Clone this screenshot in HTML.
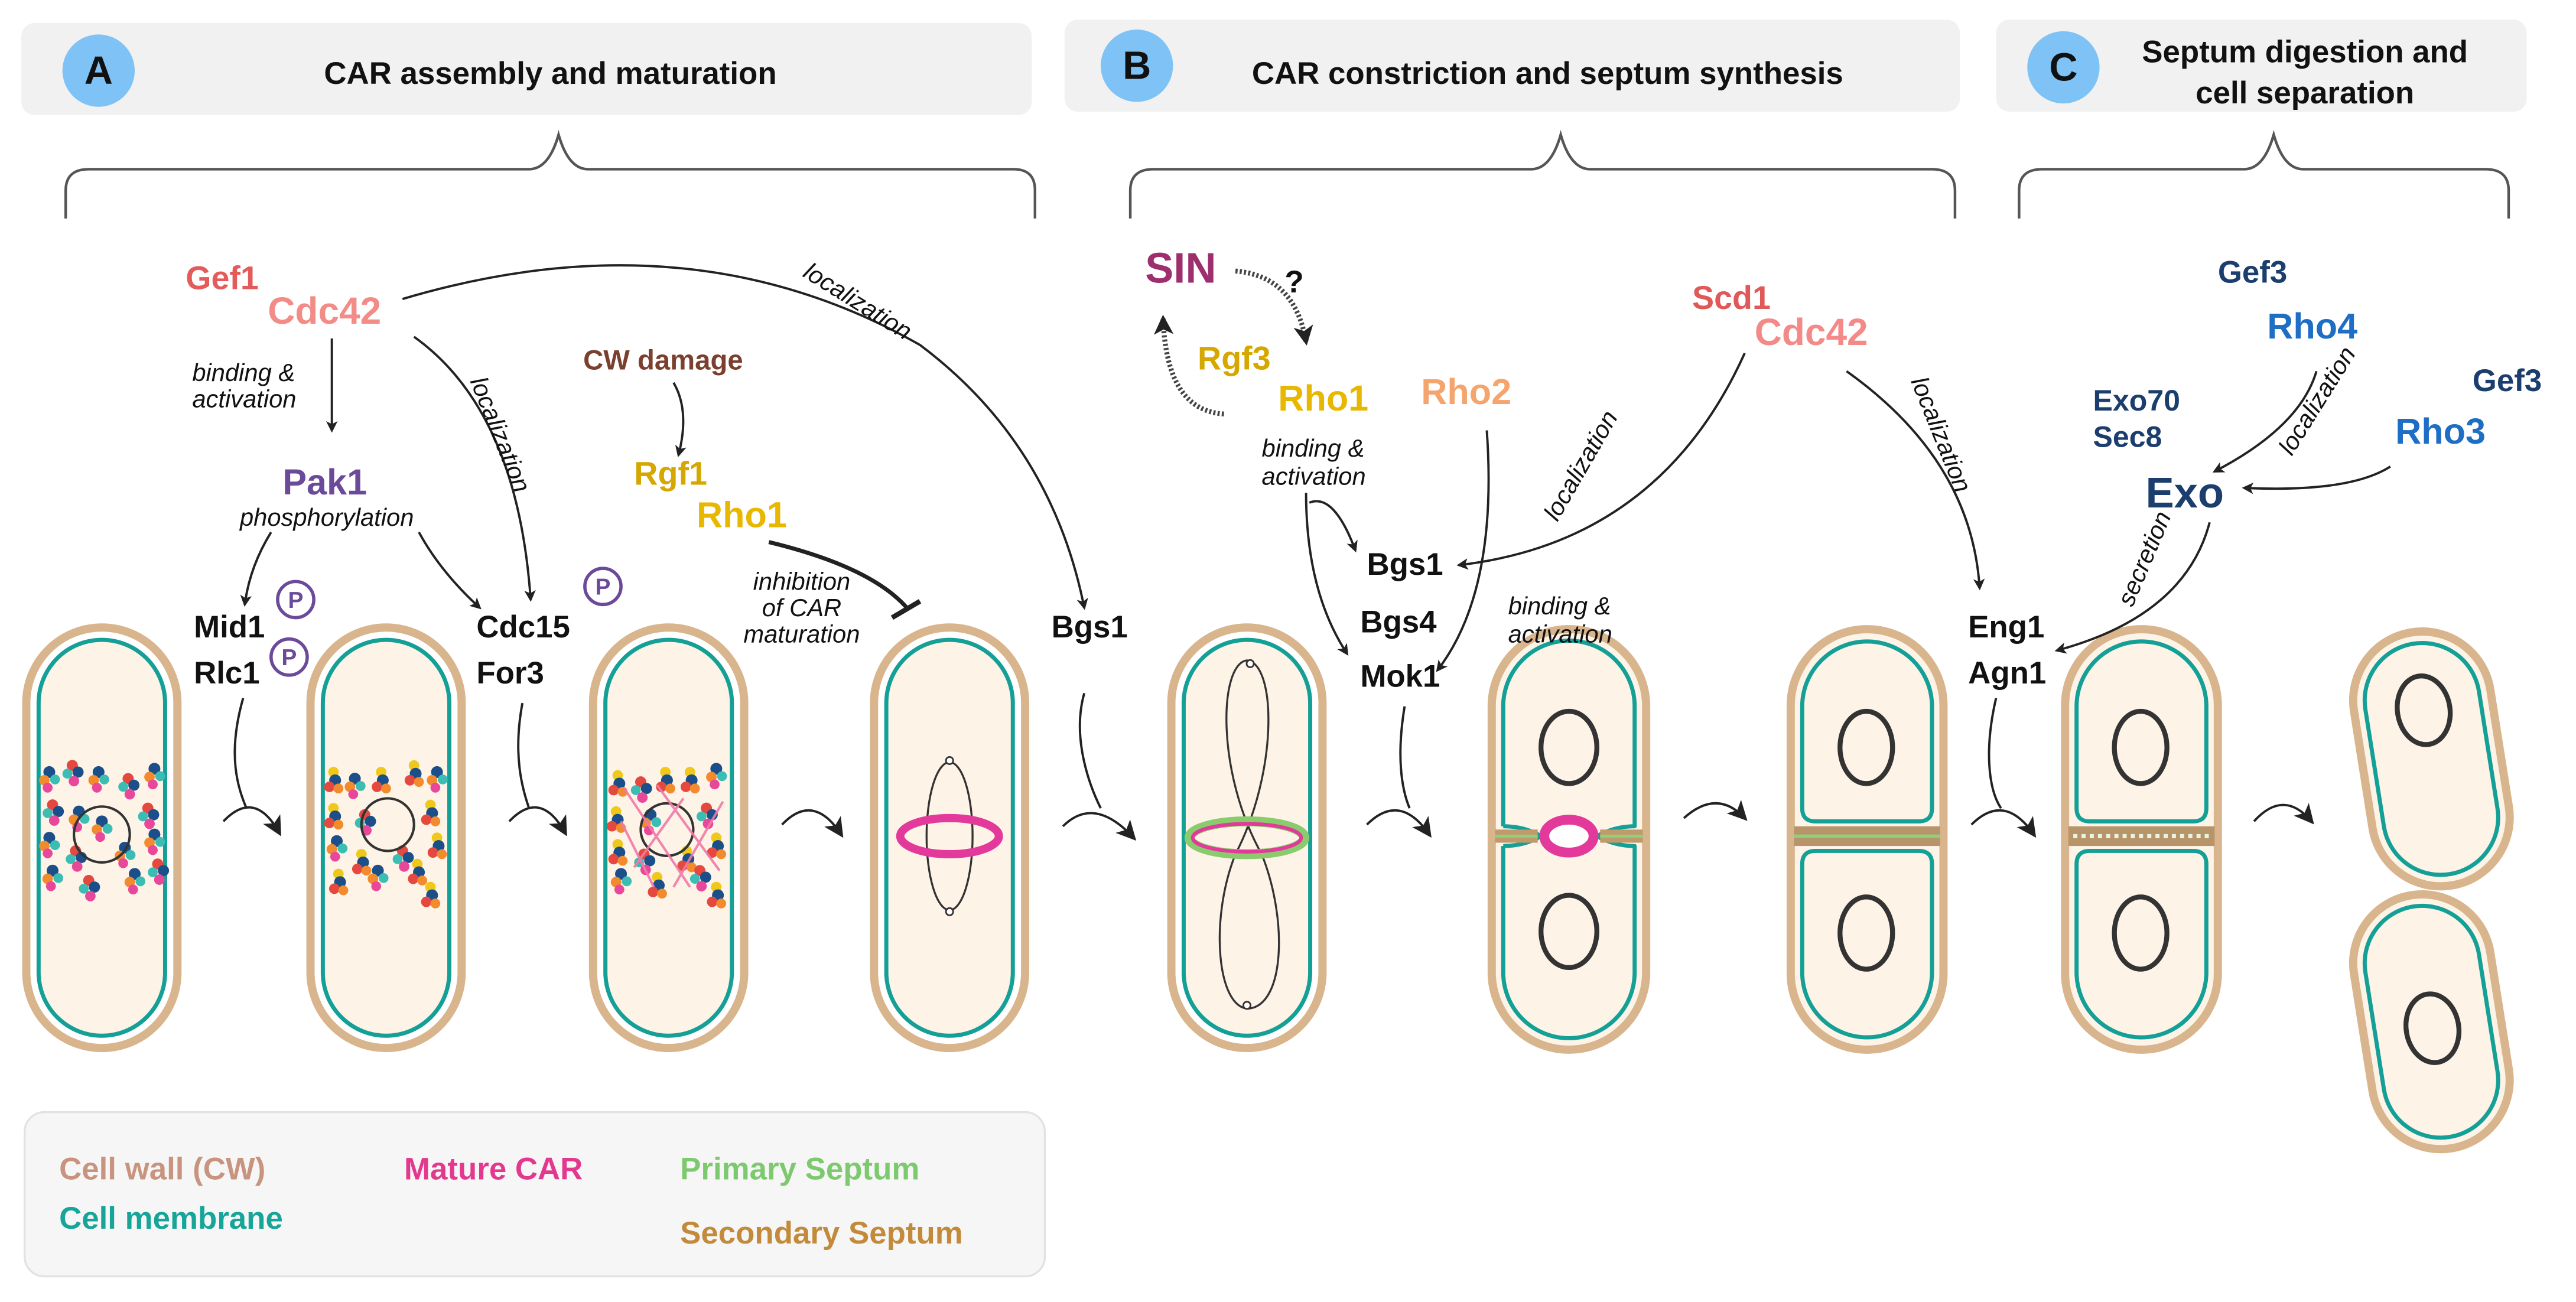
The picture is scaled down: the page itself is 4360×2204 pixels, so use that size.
<!DOCTYPE html>
<html><head><meta charset="utf-8"><style>
html,body{margin:0;padding:0;background:#fff;}
svg{display:block;}
text{font-family:"Liberation Sans",sans-serif;}
.g{font-weight:bold;font-size:20px;}
.i{font-style:italic;font-size:15px;fill:#111;}
.h{font-weight:bold;font-size:19px;fill:#111;}
.k{font-weight:bold;font-size:19px;fill:#111;}
.ln{fill:none;stroke:#222;stroke-width:1.4;}
</style></head><body>
<svg width="4360" height="2204" viewBox="0 0 1568 792.6" preserveAspectRatio="none" xmlns="http://www.w3.org/2000/svg">
<defs>
<marker id="ah" viewBox="0 0 10 10" refX="8" refY="5" markerWidth="7" markerHeight="7" orient="auto-start-reverse" markerUnits="userSpaceOnUse">
<path d="M0,0 L10,5 L0,10 L2.5,5 Z" fill="#222"/></marker>
<marker id="ah2" viewBox="0 0 10 10" refX="8" refY="5" markerWidth="12" markerHeight="12" orient="auto" markerUnits="userSpaceOnUse">
<path d="M0,0 L10,5 L0,10 L2.5,5 Z" fill="#222"/></marker>
<g id="ca"><circle cx="0" cy="0" r="3.6" fill="#1b4f8a"/><circle cx="3.5" cy="4.5" r="3" fill="#3cbdb4"/><circle cx="-3" cy="5" r="3.2" fill="#f28a2e"/><circle cx="-1" cy="9.5" r="3" fill="#e8489a"/></g>
<g id="cb"><circle cx="0" cy="0" r="3.2" fill="#f0c81a"/><circle cx="1" cy="5" r="3.6" fill="#1b4f8a"/><circle cx="-2.5" cy="9" r="3.2" fill="#e4483e"/><circle cx="3" cy="10" r="3" fill="#f28a2e"/></g>
<g id="cc"><circle cx="0" cy="0" r="3.4" fill="#e4483e"/><circle cx="3.5" cy="4" r="3.4" fill="#1b4f8a"/><circle cx="-3" cy="5" r="3" fill="#3cbdb4"/><circle cx="1" cy="9.5" r="3.2" fill="#e8489a"/></g>
</defs>

<!-- headers -->
<rect x="13" y="14" width="615" height="56" rx="8" fill="#f1f1f1"/>
<rect x="648" y="12" width="545" height="56" rx="8" fill="#f1f1f1"/>
<rect x="1215" y="12" width="323" height="56" rx="8" fill="#f1f1f1"/>
<circle cx="60" cy="43" r="22" fill="#7ec2f6"/><text x="60" y="51" text-anchor="middle" style="font-weight:bold;font-size:24px;fill:#111">A</text>
<circle cx="692" cy="40" r="22" fill="#7ec2f6"/><text x="692" y="48" text-anchor="middle" style="font-weight:bold;font-size:24px;fill:#111">B</text>
<circle cx="1256" cy="41" r="22" fill="#7ec2f6"/><text x="1256" y="49" text-anchor="middle" style="font-weight:bold;font-size:24px;fill:#111">C</text>
<text class="h" x="335" y="51" text-anchor="middle">CAR assembly and maturation</text>
<text class="h" x="942" y="51" text-anchor="middle">CAR constriction and septum synthesis</text>
<text class="h" x="1403" y="38" text-anchor="middle">Septum digestion and</text>
<text class="h" x="1403" y="63" text-anchor="middle">cell separation</text>

<!-- braces -->
<g fill="none" stroke="#555" stroke-width="1.6">
<path d="M40,133 L40,116 Q40,103 54,103 L322,103 Q334,103 340,82 Q346,103 358,103 L617,103 Q630,103 630,116 L630,133"/>
<path d="M688,133 L688,116 Q688,103 702,103 L932,103 Q944,103 950,82 Q956,103 968,103 L1176,103 Q1190,103 1190,116 L1190,133"/>
<path d="M1229,133 L1229,116 Q1229,103 1243,103 L1366,103 Q1378,103 1384,82 Q1390,103 1402,103 L1513,103 Q1527,103 1527,116 L1527,133"/>
</g>

<!-- cells generic -->
<g stroke-linejoin="round">
<!-- 1-5 plain -->
<g>
<rect x="16" y="382" width="92" height="256" rx="46" fill="#fff" stroke="#d8b58d" stroke-width="5"/>
<rect x="23.5" y="389.5" width="77" height="241" rx="38.5" fill="#fdf3e7" stroke="#14a096" stroke-width="2.5"/>
<rect x="189" y="382" width="92" height="256" rx="46" fill="#fff" stroke="#d8b58d" stroke-width="5"/>
<rect x="196.5" y="389.5" width="77" height="241" rx="38.5" fill="#fdf3e7" stroke="#14a096" stroke-width="2.5"/>
<rect x="361" y="382" width="92" height="256" rx="46" fill="#fff" stroke="#d8b58d" stroke-width="5"/>
<rect x="368.5" y="389.5" width="77" height="241" rx="38.5" fill="#fdf3e7" stroke="#14a096" stroke-width="2.5"/>
<rect x="532" y="382" width="92" height="256" rx="46" fill="#fff" stroke="#d8b58d" stroke-width="5"/>
<rect x="539.5" y="389.5" width="77" height="241" rx="38.5" fill="#fdf3e7" stroke="#14a096" stroke-width="2.5"/>
<rect x="713" y="382" width="92" height="256" rx="46" fill="#fff" stroke="#d8b58d" stroke-width="5"/>
<rect x="720.5" y="389.5" width="77" height="241" rx="38.5" fill="#fdf3e7" stroke="#14a096" stroke-width="2.5"/>
</g>
<!-- cell 6 -->
<rect x="908" y="383" width="94" height="256" rx="47" fill="#fdf3e7" stroke="#d8b58d" stroke-width="5"/>
<path d="M915,503 L915,430 A40,40 0 0 1 995,430 L995,503 Q983,503 972,509 M915,503 Q928,503 938,509" fill="none" stroke="#14a096" stroke-width="2.5"/>
<path d="M915,515 L915,592 A40,40 0 0 0 995,592 L995,515 Q983,515 972,509 M915,515 Q928,515 938,509" fill="none" stroke="#14a096" stroke-width="2.5"/>
<rect x="910" y="505" width="26" height="8" fill="#c09a6a"/><line x1="910" y1="509" x2="936" y2="509" stroke="#8fd07a" stroke-width="1.8"/>
<rect x="974" y="505" width="26" height="8" fill="#c09a6a"/><line x1="974" y1="509" x2="1000" y2="509" stroke="#8fd07a" stroke-width="1.8"/>
<ellipse cx="955" cy="509" rx="15" ry="10" fill="#fff" stroke="#e2399a" stroke-width="6"/>
<ellipse cx="955" cy="455" rx="17" ry="22" fill="none" stroke="#333" stroke-width="3"/>
<ellipse cx="955" cy="567" rx="17" ry="22" fill="none" stroke="#333" stroke-width="3"/>
<!-- cell 7 -->
<rect x="1090" y="383" width="93" height="256" rx="46.5" fill="#fdf3e7" stroke="#d8b58d" stroke-width="5"/>
<path d="M1097,492 L1097,430 A39.5,39.5 0 0 1 1176,430 L1176,492 Q1176,500 1168,500 L1105,500 Q1097,500 1097,492 Z" fill="#fdf3e7" stroke="#14a096" stroke-width="2.5"/>
<path d="M1097,526 L1097,592 A39.5,39.5 0 0 0 1176,592 L1176,526 Q1176,518 1168,518 L1105,518 Q1097,518 1097,526 Z" fill="#fdf3e7" stroke="#14a096" stroke-width="2.5"/>
<rect x="1092" y="503" width="89" height="12" fill="#b8946a"/>
<line x1="1092" y1="509" x2="1181" y2="509" stroke="#8fd07a" stroke-width="2"/>
<ellipse cx="1136" cy="455" rx="16" ry="22" fill="none" stroke="#333" stroke-width="3"/>
<ellipse cx="1136" cy="568" rx="16" ry="22" fill="none" stroke="#333" stroke-width="3"/>
<!-- cell 8 -->
<rect x="1257" y="383" width="93" height="256" rx="46.5" fill="#fdf3e7" stroke="#d8b58d" stroke-width="5"/>
<path d="M1264,492 L1264,430 A39.5,39.5 0 0 1 1343,430 L1343,492 Q1343,500 1335,500 L1272,500 Q1264,500 1264,492 Z" fill="#fdf3e7" stroke="#14a096" stroke-width="2.5"/>
<path d="M1264,526 L1264,592 A39.5,39.5 0 0 0 1343,592 L1343,526 Q1343,518 1335,518 L1272,518 Q1264,518 1264,526 Z" fill="#fdf3e7" stroke="#14a096" stroke-width="2.5"/>
<rect x="1259" y="503" width="89" height="12" fill="#b8946a"/>
<line x1="1262" y1="509" x2="1346" y2="509" stroke="#e8f6e0" stroke-width="2.5" stroke-dasharray="2.5 2.5"/>
<ellipse cx="1303" cy="455" rx="16" ry="22" fill="none" stroke="#333" stroke-width="3"/>
<ellipse cx="1303" cy="568" rx="16" ry="22" fill="none" stroke="#333" stroke-width="3"/>
<!-- cell 9 -->
<g transform="rotate(-9 1480 462)">
<rect x="1438" y="384" width="84" height="156" rx="42" fill="#fdf3e7" stroke="#d8b58d" stroke-width="5"/>
<rect x="1445" y="391" width="70" height="142" rx="35" fill="none" stroke="#14a096" stroke-width="2.5"/>
<ellipse cx="1480" cy="432" rx="16" ry="21" fill="none" stroke="#333" stroke-width="3"/>
</g>
<g transform="rotate(-9 1480 622)">
<rect x="1438" y="544" width="84" height="156" rx="42" fill="#fdf3e7" stroke="#d8b58d" stroke-width="5"/>
<rect x="1445" y="551" width="70" height="142" rx="35" fill="none" stroke="#14a096" stroke-width="2.5"/>
<ellipse cx="1480" cy="626" rx="16" ry="21" fill="none" stroke="#333" stroke-width="3"/>
</g>
</g>

<!-- cell 1 actin patches -->
<g>
<use href="#ca" x="30" y="470"/><use href="#cc" x="44" y="466"/><use href="#ca" x="60" y="470"/><use href="#cc" x="78" y="474"/><use href="#ca" x="94" y="468"/>
<use href="#cc" x="32" y="490"/><use href="#ca" x="48" y="494"/><use href="#cc" x="90" y="492"/><use href="#ca" x="30" y="510"/><use href="#ca" x="94" y="508"/>
<use href="#cc" x="46" y="518"/><use href="#ca" x="76" y="516"/><use href="#ca" x="32" y="530"/><use href="#cc" x="54" y="536"/><use href="#ca" x="82" y="532"/><use href="#cc" x="96" y="526"/>
<use href="#ca" x="62" y="500"/>
</g>
<circle cx="62" cy="508" r="17" fill="none" stroke="#333" stroke-width="1.5"/>
<!-- cell 2 -->
<g>
<use href="#cb" x="203" y="470"/><use href="#ca" x="216" y="474"/><use href="#cb" x="232" y="470"/><use href="#cb" x="252" y="466"/><use href="#ca" x="266" y="470"/>
<use href="#cb" x="203" y="492"/><use href="#cc" x="222" y="496"/><use href="#cb" x="262" y="490"/><use href="#ca" x="205" y="512"/><use href="#cb" x="266" y="510"/>
<use href="#cb" x="220" y="520"/><use href="#cc" x="245" y="518"/><use href="#cb" x="206" y="532"/><use href="#ca" x="230" y="530"/><use href="#cb" x="254" y="526"/><use href="#cb" x="262" y="540"/>
</g>
<circle cx="236" cy="502" r="16" fill="none" stroke="#333" stroke-width="1.5"/>
<!-- cell 3 -->
<g>
<use href="#cb" x="376" y="472"/><use href="#cc" x="390" y="476"/><use href="#cb" x="405" y="470"/><use href="#cb" x="420" y="470"/><use href="#ca" x="436" y="468"/>
<use href="#cb" x="375" y="494"/><use href="#ca" x="396" y="496"/><use href="#cc" x="430" y="492"/><use href="#cb" x="376" y="514"/><use href="#cb" x="436" y="510"/>
<use href="#cc" x="392" y="520"/><use href="#cb" x="418" y="518"/><use href="#ca" x="378" y="532"/><use href="#cb" x="400" y="534"/><use href="#cc" x="426" y="530"/><use href="#cb" x="436" y="540"/>
</g>
<circle cx="406" cy="505" r="16" fill="none" stroke="#333" stroke-width="1.5"/>
<g stroke="#f07aa8" stroke-width="1.5" fill="none" opacity="0.9">
<path d="M380,480 L420,540"/><path d="M386,528 L416,486"/><path d="M400,478 L438,530"/><path d="M410,540 L440,488"/><path d="M378,500 L398,540"/>
</g>
<!-- cell 4 ring -->
<ellipse cx="578" cy="509" rx="14" ry="45" fill="none" stroke="#333" stroke-width="1.2"/>
<circle cx="578" cy="463" r="2.2" fill="#fff" stroke="#333" stroke-width="1"/><circle cx="578" cy="555" r="2.2" fill="#fff" stroke="#333" stroke-width="1"/>
<ellipse cx="578" cy="509" rx="30" ry="11" fill="none" stroke="#e2399a" stroke-width="5"/>
<!-- cell 5 spindle -->
<path d="M759,402 C742,404 740,470 768,520 C784,560 782,612 760,614 C741,614 736,560 752,520 C778,470 777,404 759,402 Z" fill="none" stroke="#333" stroke-width="1.2"/>
<circle cx="761" cy="404" r="2.2" fill="#fff" stroke="#333" stroke-width="1"/><circle cx="759" cy="612" r="2.2" fill="#fff" stroke="#333" stroke-width="1"/>
<ellipse cx="759" cy="510" rx="35" ry="10" fill="none" stroke="#8acb6e" stroke-width="6"/>
<ellipse cx="759" cy="510" rx="33" ry="8.5" fill="none" stroke="#e2399a" stroke-width="2.2"/>

<!-- between-cell arrows -->
<g class="ln" marker-end="url(#ah2)" stroke-width="1.6">
<path d="M136,500 Q155,480 170,507"/>
<path d="M310,500 Q329,480 344,507"/>
<path d="M476,502 Q495,482 512,508"/>
<path d="M647,503 Q666,484 690,510"/>
<path d="M832,502 Q852,482 870,508"/>
<path d="M1025,498 Q1045,480 1062,498"/>
<path d="M1200,502 Q1220,482 1238,508"/>
<path d="M1372,500 Q1390,480 1407,500"/>
</g>
<g class="ln" stroke-width="1.1">
<path d="M148,425 C138,460 145,480 150,492"/>
<path d="M318,428 C312,460 318,480 322,492"/>
<path d="M660,422 C652,450 664,480 670,492"/>
<path d="M855,430 C850,460 853,480 858,492"/>
<path d="M1215,425 C1208,455 1210,480 1218,492"/>
</g>

<!-- section A labels -->
<text class="g" x="113" y="176" fill="#e45b5b">Gef1</text>
<text class="g" x="163" y="197" fill="#f38b86" style="font-size:23px">Cdc42</text>
<text class="i" x="117" y="232">binding &amp;</text>
<text class="i" x="117" y="248">activation</text>
<path class="ln" d="M202,206 L202,262" marker-end="url(#ah)"/>
<text class="g" x="172" y="301" fill="#6b4a9a" style="font-size:22px">Pak1</text>
<text class="i" x="146" y="320">phosphorylation</text>
<path class="ln" d="M165,324 Q152,345 149,368" marker-end="url(#ah)"/>
<path class="ln" d="M255,324 Q268,348 292,370" marker-end="url(#ah)"/>
<text class="k" x="118" y="388">Mid1</text>
<text class="k" x="118" y="416">Rlc1</text>
<text class="k" x="290" y="388">Cdc15</text>
<text class="k" x="290" y="416">For3</text>
<g fill="#fff" stroke="#6b4a9a" stroke-width="2">
<circle cx="180" cy="365" r="11"/><circle cx="176" cy="400" r="11"/><circle cx="367" cy="357" r="11"/></g>
<g style="font-weight:bold;font-size:14px;fill:#6b4a9a" text-anchor="middle">
<text x="180" y="370">P</text><text x="176" y="405">P</text><text x="367" y="362">P</text></g>
<path class="ln" d="M252,205 Q315,250 323,365" marker-end="url(#ah)"/>
<text class="i" transform="translate(286,232) rotate(68)">localization</text>
<path class="ln" d="M245,182 Q420,130 560,210 Q640,270 660,370" marker-end="url(#ah)"/>
<text class="i" transform="translate(488,168) rotate(32)">localization</text>
<text class="g" x="355" y="225" fill="#7b3f2e" style="font-size:17px">CW damage</text>
<path class="ln" d="M410,233 Q420,250 413,277" marker-end="url(#ah)"/>
<text class="g" x="386" y="295" fill="#d6a700">Rgf1</text>
<text class="g" x="424" y="321" fill="#e8b800" style="font-size:22px">Rho1</text>
<path d="M468,330 Q530,345 552,370" fill="none" stroke="#222" stroke-width="2.5"/>
<line x1="543" y1="376" x2="560" y2="366" stroke="#222" stroke-width="3"/>
<text class="i" x="488" y="359" text-anchor="middle">inhibition</text>
<text class="i" x="488" y="375" text-anchor="middle">of CAR</text>
<text class="i" x="488" y="391" text-anchor="middle">maturation</text>
<text class="k" x="640" y="388">Bgs1</text>

<!-- section B labels -->
<text class="g" x="697" y="172" fill="#9d2f6e" style="font-size:26px">SIN</text>
<text class="g" x="782" y="178" fill="#111" style="font-size:19px">?</text>
<path d="M752,165 Q788,168 795,208" fill="none" stroke="#444" stroke-width="3" stroke-dasharray="1.3 1.3" marker-end="url(#ah2)"/>
<path d="M745,252 Q710,250 708,194" fill="none" stroke="#444" stroke-width="3" stroke-dasharray="1.3 1.3" marker-end="url(#ah2)"/>
<text class="g" x="729" y="225" fill="#d6a700">Rgf3</text>
<text class="g" x="778" y="250" fill="#e8b800" style="font-size:22px">Rho1</text>
<text class="i" x="768" y="278">binding &amp;</text>
<text class="i" x="768" y="295">activation</text>
<path class="ln" d="M797,306 Q812,300 825,335" marker-end="url(#ah)"/>
<path class="ln" d="M795,300 Q795,360 820,398" marker-end="url(#ah)"/>
<text class="k" x="832" y="350">Bgs1</text>
<text class="k" x="828" y="385">Bgs4</text>
<text class="k" x="828" y="418">Mok1</text>
<text class="g" x="865" y="246" fill="#f5a46e" style="font-size:22px">Rho2</text>
<path class="ln" d="M905,262 Q912,360 875,408" marker-end="url(#ah)"/>
<text class="i" x="918" y="374">binding &amp;</text>
<text class="i" x="918" y="391">activation</text>
<text class="g" x="1030" y="188" fill="#e05858">Scd1</text>
<text class="g" x="1068" y="210" fill="#f48a88" style="font-size:23px">Cdc42</text>
<path class="ln" d="M1062,215 Q1010,330 888,344" marker-end="url(#ah)"/>
<text class="i" transform="translate(948,318) rotate(-60)">localization</text>
<path class="ln" d="M1124,226 Q1200,280 1205,358" marker-end="url(#ah)"/>
<text class="i" transform="translate(1163,232) rotate(68)">localization</text>
<text class="k" x="1198" y="388">Eng1</text>
<text class="k" x="1198" y="416">Agn1</text>

<!-- section C labels -->
<text class="g" x="1350" y="172" fill="#1b3e6e" style="font-size:19px">Gef3</text>
<text class="g" x="1380" y="206" fill="#1d6ec4" style="font-size:22px">Rho4</text>
<text class="g" x="1274" y="250" fill="#1b3e6e" style="font-size:18px">Exo70</text>
<text class="g" x="1274" y="272" fill="#1b3e6e" style="font-size:18px">Sec8</text>
<text class="g" x="1306" y="309" fill="#1b3e6e" style="font-size:26px">Exo</text>
<text class="g" x="1505" y="238" fill="#1b3e6e" style="font-size:19px">Gef3</text>
<text class="g" x="1458" y="270" fill="#1d6ec4" style="font-size:22px">Rho3</text>
<path class="ln" d="M1410,226 Q1400,260 1348,287" marker-end="url(#ah)"/>
<path class="ln" d="M1455,284 Q1430,300 1366,297" marker-end="url(#ah)"/>
<text class="i" transform="translate(1395,278) rotate(-58)">localization</text>
<path class="ln" d="M1345,318 Q1330,375 1252,396" marker-end="url(#ah)"/>
<text class="i" transform="translate(1298,370) rotate(-67)">secretion</text>

<!-- legend -->
<rect x="15" y="677" width="621" height="100" rx="12" fill="#f6f6f6" stroke="#e2e2e2" stroke-width="1.2"/>
<text class="g" x="36" y="718" fill="#c8947f" style="font-size:19px">Cell wall (CW)</text>
<text class="g" x="36" y="748" fill="#16a598" style="font-size:19px">Cell membrane</text>
<text class="g" x="246" y="718" fill="#e2398f" style="font-size:19px">Mature CAR</text>
<text class="g" x="414" y="718" fill="#7dc96e" style="font-size:19px">Primary Septum</text>
<text class="g" x="414" y="757" fill="#c28a3a" style="font-size:19px">Secondary Septum</text>
</svg>
</body></html>
